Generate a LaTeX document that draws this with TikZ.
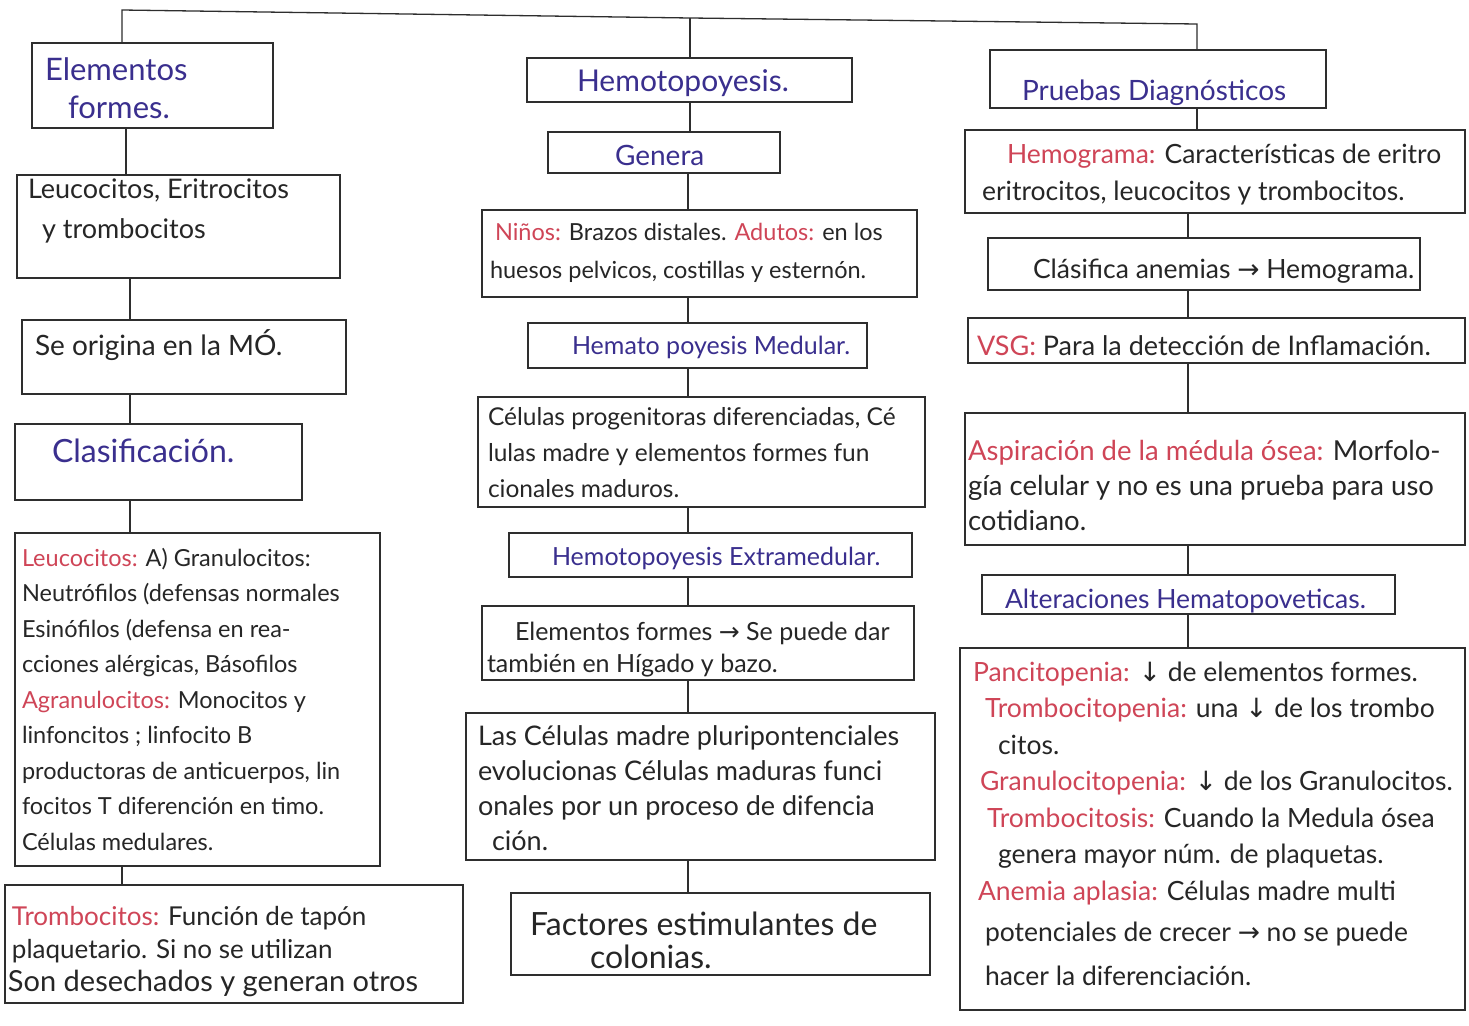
\documentclass[tikz,border=0pt]{standalone}
\usepackage{fontspec}
\setmainfont{Lato}
\newfontfamily\symfont{DejaVu Sans}
\definecolor{ink}{HTML}{262626}
\definecolor{blueink}{HTML}{3A2F8E}
\definecolor{redink}{HTML}{CF4557}
\definecolor{boxline}{HTML}{2E2E2E}
\newcommand\F[2]{\fontsize{#1}{#2}\selectfont}
\newcommand\rd[1]{\textcolor{redink}{#1}}
\newcommand\ra{{\symfont →}}
\newcommand\da{{\symfont ↓}}
\newcommand\bx[5]{%
  \pgfmathsetmacro\mybw{#4-#2}\pgfmathsetmacro\mybh{#5-#3}%
  \node[box,minimum width=\mybw pt,minimum height=\mybh pt,anchor=north west] (#1) at (#2,#3) {};}
\tikzset{
  box/.style={draw=boxline,line width=1.3pt,inner sep=0pt,outer sep=0pt,rectangle},
  conn/.style={draw=boxline,line width=1.3pt},
  txt/.style={inner sep=0pt,outer sep=0pt,align=left,anchor=base west,text=ink},
  ttl/.style={txt,text=blueink}
}
\begin{document}
\begin{tikzpicture}[x=1pt,y=-1pt]
\fill[white] (0,0) rectangle (1469,1025);
\useasboundingbox (0,0) rectangle (1469,1025);

% ---------- boxes ----------
\bx{L1}{32}{43}{273}{128}
\bx{L2}{17}{175}{340}{278}
\bx{L3}{22}{320}{346}{394}
\bx{L4}{15}{424}{302}{500}
\bx{L5}{15}{533}{380}{866}
\bx{L6}{5}{885}{463}{1003}

\bx{M1}{527}{58}{852}{102}
\bx{M2}{548}{132}{780}{173}
\bx{M3}{482}{210}{917}{297}
\bx{M4}{528}{323}{867}{368}
\bx{M5}{478}{397}{925}{507}
\bx{M6}{509}{533}{912}{577}
\bx{M7}{482}{606}{914}{680}
\bx{M8}{466}{713}{935}{860}
\bx{M9}{511}{893}{930}{975}

\bx{R1}{990}{50}{1326}{108}
\bx{R2}{965}{130}{1465}{213}
\bx{R3}{988}{238}{1420}{290}
\bx{R4}{968}{318}{1465}{363}
\bx{R5}{965}{413}{1465}{545}
\bx{R6}{982}{575}{1395}{614}
\bx{R7}{960}{648}{1465}{1010}

% ---------- connector guide coordinates ----------
\coordinate (tl) at (122,10);
\coordinate (tm) at (690,18);
\coordinate (tr) at (1197,24);
\coordinate (xa) at (126,0);
\coordinate (xb) at (130,0);
\coordinate (xc) at (122,0);
\coordinate (xm) at (688,0);
\coordinate (xr) at (1188,0);

% top bar
\draw[conn] (L1.north -| tl) -- (tl) -- (tm) -- (tr) -- (R1.north -| tr);
\draw[conn] (tm) -- (M1.north -| tm);

% left column
\draw[conn] (L1.south -| xa) -- (L2.north -| xa);
\draw[conn] (L2.south -| xb) -- (L3.north -| xb);
\draw[conn] (L3.south -| xb) -- (L4.north -| xb);
\draw[conn] (L4.south -| xb) -- (L5.north -| xb);
\draw[conn] (L5.south -| xc) -- (L6.north -| xc);

% middle column
\draw[conn] (M1.south -| tm) -- (M2.north -| tm);
\draw[conn] (M2.south -| xm) -- (M3.north -| xm);
\draw[conn] (M3.south -| xm) -- (M4.north -| xm);
\draw[conn] (M4.south -| xm) -- (M5.north -| xm);
\draw[conn] (M5.south -| xm) -- (M6.north -| xm);
\draw[conn] (M6.south -| xm) -- (M7.north -| xm);
\draw[conn] (M7.south -| xm) -- (M8.north -| xm);
\draw[conn] (M8.south -| xm) -- (M9.north -| xm);

% right column
\draw[conn] (R1.south -| tr) -- (R2.north -| tr);
\draw[conn] (R2.south -| xr) -- (R3.north -| xr);
\draw[conn] (R3.south -| xr) -- (R4.north -| xr);
\draw[conn] (R4.south -| xr) -- (R5.north -| xr);
\draw[conn] (R5.south -| xr) -- (R6.north -| xr);
\draw[conn] (R6.south -| xr) -- (R7.north -| xr);

% ---------- texts: left (multi-line nodes anchored at last baseline) ----------
\node[ttl,font=\F{31}{38}] (tL1) at (45,118) {Elementos\\\hspace*{23pt}formes.};
\node[txt,font=\F{27}{40}] (tL2) at (28,238) {Leucocitos, Eritrocitos\\\hspace*{14pt}y trombocitos};
\node[txt,font=\F{28}{30}] (tL3) at (35,355) {Se origina en la MÓ.};
\node[ttl,font=\F{32}{34}] (tL4) at (52,462) {Clasificación.};
\node[txt,font=\F{23.5}{35.5}] (tL5) at (22,850) {%
\rd{Leucocitos:} A) Granulocitos:\\
Neutrófilos (defensas normales\\
Esinófilos (defensa en rea-\\
cciones alérgicas, Básofilos\\
\rd{Agranulocitos:} Monocitos y\\
linfoncitos ; linfocito B\\
productoras de anticuerpos, lin\\
focitos T diferención en timo.\\
Células medulares.};
\node[txt,font=\F{26}{33}] (tL6) at (8,991) {%
\hspace*{4pt}\rd{Trombocitos:} Función de tapón\\
\hspace*{4pt}plaquetario. Si no se utilizan\\
{\F{29}{33}Son desechados y generan otros}};

% ---------- texts: middle ----------
\node[ttl,font=\F{30}{32}] (tM1) at (577,92) {Hemotopoyesis.};
\node[ttl,font=\F{28}{30}] (tM2) at (615,165) {Genera};
\node[txt,font=\F{23.5}{38}] (tM3) at (490,278) {%
\hspace*{5pt}\rd{Niños:} Brazos distales. \rd{Adutos:} en los\\
huesos pelvicos, costillas y esternón.};
\node[ttl,font=\F{25}{26}] (tM4) at (572,354) {Hemato poyesis Medular.};
\node[txt,font=\F{24.5}{36}] (tM5) at (488,497) {%
Células progenitoras diferenciadas, Cé\\
lulas madre y elementos formes fun\\
cionales maduros.};
\node[ttl,font=\F{25}{28}] (tM6) at (552,565) {Hemotopoyesis Extramedular.};
\node[txt,font=\F{25}{32}] (tM7) at (487,672) {%
\hspace*{28pt}Elementos formes \ra\ Se puede dar\\
también en Hígado y bazo.};
\node[txt,font=\F{27}{35}] (tM8) at (478,850) {%
Las Células madre pluripontenciales\\
evolucionas Células maduras funci\\
onales por un proceso de difencia\\
\hspace*{14pt}ción.};
\node[txt,font=\F{32}{33}] (tM9) at (530,968) {%
Factores estimulantes de\\
\hspace*{60pt}colonias.};

% ---------- texts: right ----------
\node[ttl,font=\F{28}{30}] (tR1) at (1022,100) {Pruebas Diagnósticos};
\node[txt,font=\F{26.5}{37}] (tR2) at (982,200) {%
\hspace*{25pt}\rd{Hemograma:} Características de eritro\\
eritrocitos, leucocitos y trombocitos.};
\node[txt,font=\F{26.5}{28}] (tR3) at (1033,278) {Clásifica anemias \ra\ Hemograma.};
\node[txt,font=\F{27}{28}] (tR4) at (977,355) {\rd{VSG:} Para la detección de Inflamación.};
\node[txt,font=\F{27.5}{35}] (tR5) at (968,530) {%
\rd{Aspiración de la médula ósea:} Morfolo-\\
gía celular y no es una prueba para uso\\
cotidiano.};
\node[ttl,font=\F{26.5}{28}] (tR6) at (1005,608) {Alteraciones Hematopoveticas.};
\node[txt,font=\F{26.5}{36.5}] (tR7) at (973,985) {%
\rd{Pancitopenia:} \da\ de elementos formes.\\
\hspace*{12pt}\rd{Trombocitopenia:} una \da\ de los trombo\\
\hspace*{25pt}citos.\\
\hspace*{7pt}\rd{Granulocitopenia:} \da\ de los Granulocitos.\\
\hspace*{14pt}\rd{Trombocitosis:} Cuando la Medula ósea\\
\hspace*{25pt}genera mayor núm. de plaquetas.\\
\hspace*{5pt}\rd{Anemia aplasia:} Células madre multi\\[5pt]
\hspace*{12pt}potenciales de crecer \ra\ no se puede\\[7pt]
\hspace*{12pt}hacer la diferenciación.};
\end{tikzpicture}
\end{document}
